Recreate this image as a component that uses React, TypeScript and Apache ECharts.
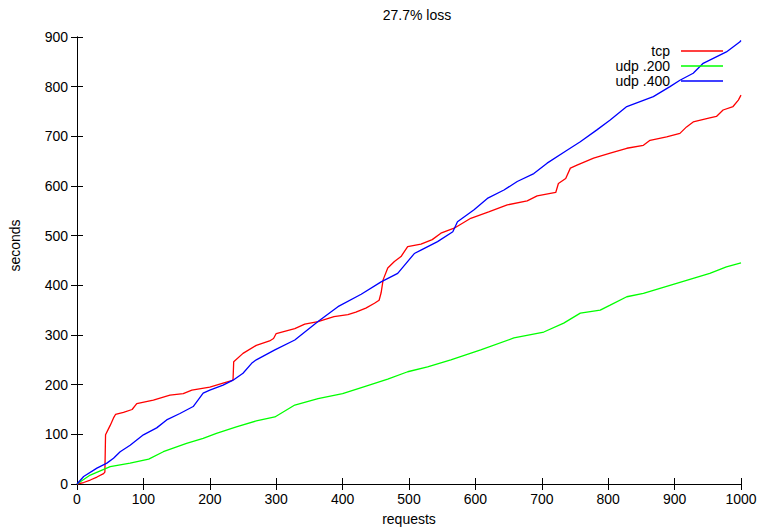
import React, { useEffect, useRef } from "react";
import * as echarts from "echarts";

const titleText = "27.7% loss";
const xName = "requests";
const yName = "seconds";
const seriesNames = ["tcp", "udp .200", "udp .400"];
const seriesColors = ["#ff0000", "#00ff00", "#0000ff"];

const tcp: number[][] = [
  [0, 0], [10, 3], [20, 8], [30, 14], [40, 21], [42, 24], [43, 99], [47, 110], [50, 118], [55, 133],
  [58, 140], [70, 144], [83, 150], [90, 162], [115, 169], [140, 179], [160, 182], [173, 189], [200, 195],
  [220, 203], [233, 208], [235, 210], [236, 246], [250, 263], [270, 279], [290, 288], [296, 293], [300, 303],
  [328, 313], [343, 322], [363, 327], [387, 337], [408, 341], [420, 346], [435, 354], [448, 364], [455, 370],
  [458, 385], [461, 411], [468, 435], [478, 448], [488, 458], [498, 478], [518, 483], [535, 492], [548, 505],
  [568, 515], [593, 535], [620, 548], [648, 562], [678, 570], [693, 580], [721, 587], [725, 605], [736, 615],
  [743, 636], [753, 642], [778, 656], [803, 666], [828, 676], [853, 682], [863, 692], [888, 699], [908, 706],
  [918, 719], [928, 729], [953, 737], [963, 740], [973, 753], [988, 760], [996, 773], [1000, 783],
];

const udp200: number[][] = [
  [0, 0], [20, 18], [50, 35], [80, 42], [108, 50], [130, 65], [165, 82], [190, 92], [210, 102], [240, 115],
  [270, 127], [298, 135], [328, 159], [363, 172], [400, 182], [433, 196], [468, 211], [498, 226], [528, 236],
  [563, 250], [608, 270], [658, 294], [703, 306], [733, 324], [758, 344], [788, 350], [803, 360], [828, 377],
  [853, 384], [878, 394], [903, 404], [928, 414], [953, 424], [978, 437], [1000, 445],
];

const udp400: number[][] = [
  [0, 0], [10, 15], [30, 32], [45, 42], [55, 52], [65, 65], [80, 78], [100, 99], [120, 113], [135, 129],
  [155, 142], [175, 156], [190, 183], [200, 189], [220, 199], [235, 209], [250, 223], [263, 243], [270, 250],
  [298, 270], [328, 290], [363, 327], [393, 357], [428, 382], [458, 407], [483, 424], [508, 464], [518, 471],
  [543, 488], [566, 508], [573, 528], [598, 552], [618, 575], [643, 592], [663, 609], [688, 625], [708, 646],
  [738, 672], [758, 689], [783, 713], [803, 733], [828, 760], [848, 770], [868, 780], [893, 800], [908, 813],
  [928, 827], [943, 847], [978, 870], [998, 890], [1000, 893],
];

const seriesData = [tcp, udp200, udp400];

const FONT = "Liberation Sans, Arial, sans-serif";

export default function App() {
  const ref = useRef<HTMLDivElement>(null);
  useEffect(() => {
    if (!ref.current) return;
    const chart = echarts.init(ref.current, undefined, { renderer: "svg" });
    const axisCommon = {
      type: "value" as const,
      min: 0,
      interval: 100,
      splitLine: { show: false },
      axisLine: { show: true, lineStyle: { color: "#000", width: 1 } },
      axisTick: { show: true, inside: true, length: 6, lineStyle: { color: "#000" } },
    };
    const legendTops = [44, 59, 74];
    chart.setOption({
      animation: false,
      backgroundColor: "#fff",
      textStyle: { fontFamily: FONT },
      title: {
        text: titleText,
        left: 412,
        textAlign: "center",
        top: 3,
        textStyle: { fontSize: 14, fontWeight: "normal", color: "#000", fontFamily: FONT },
      },
      legend: seriesNames.map((n, i) => ({
        data: [n],
        right: 40,
        top: legendTops[i],
        orient: "vertical",
        align: "right",
        icon: "rect",
        itemWidth: 42,
        itemHeight: 1.5,
        padding: 0,
        selectedMode: false,
        textStyle: { fontSize: 14, color: "#000", fontFamily: FONT, padding: [0, 6, 0, 0] },
      })),
      grid: { left: 75, right: 22, top: 37, bottom: 47, containLabel: false },
      xAxis: [
        {
          ...axisCommon,
          max: 1000,
          position: "bottom",
          name: xName,
          nameLocation: "middle",
          nameGap: 28,
          nameTextStyle: { fontSize: 14, color: "#000", fontFamily: FONT },
          axisLabel: {
            fontSize: 14,
            color: "#000",
            margin: 8,
            fontFamily: FONT,
            formatter: (v: number) => String(v),
          },
        },
        {
          ...axisCommon,
          max: 1000,
          position: "top",
          axisLabel: { show: false },
        },
      ],
      yAxis: [
        {
          ...axisCommon,
          max: 900,
          position: "left",
          name: yName,
          nameLocation: "middle",
          nameRotate: 90,
          nameGap: 55,
          nameTextStyle: { fontSize: 14, color: "#000", fontFamily: FONT, padding: [0, 0, 0, 30] },
          axisLabel: {
            fontSize: 14,
            color: "#000",
            margin: 9,
            fontFamily: FONT,
            formatter: (v: number) => String(v),
          },
        },
        {
          ...axisCommon,
          max: 900,
          position: "right",
          axisLabel: { show: false },
        },
      ],
      series: seriesNames.map((n, i) => ({
        name: n,
        type: "line",
        xAxisIndex: 0,
        yAxisIndex: 0,
        data: seriesData[i],
        showSymbol: false,
        symbol: "none",
        color: seriesColors[i],
        lineStyle: { color: seriesColors[i], width: 1.3 },
      })),
    });
    return () => chart.dispose();
  }, []);
  return (
    <div
      ref={ref}
      style={{ position: "absolute", left: 0, top: 0, width: 763, height: 531 }}
    />
  );
}
